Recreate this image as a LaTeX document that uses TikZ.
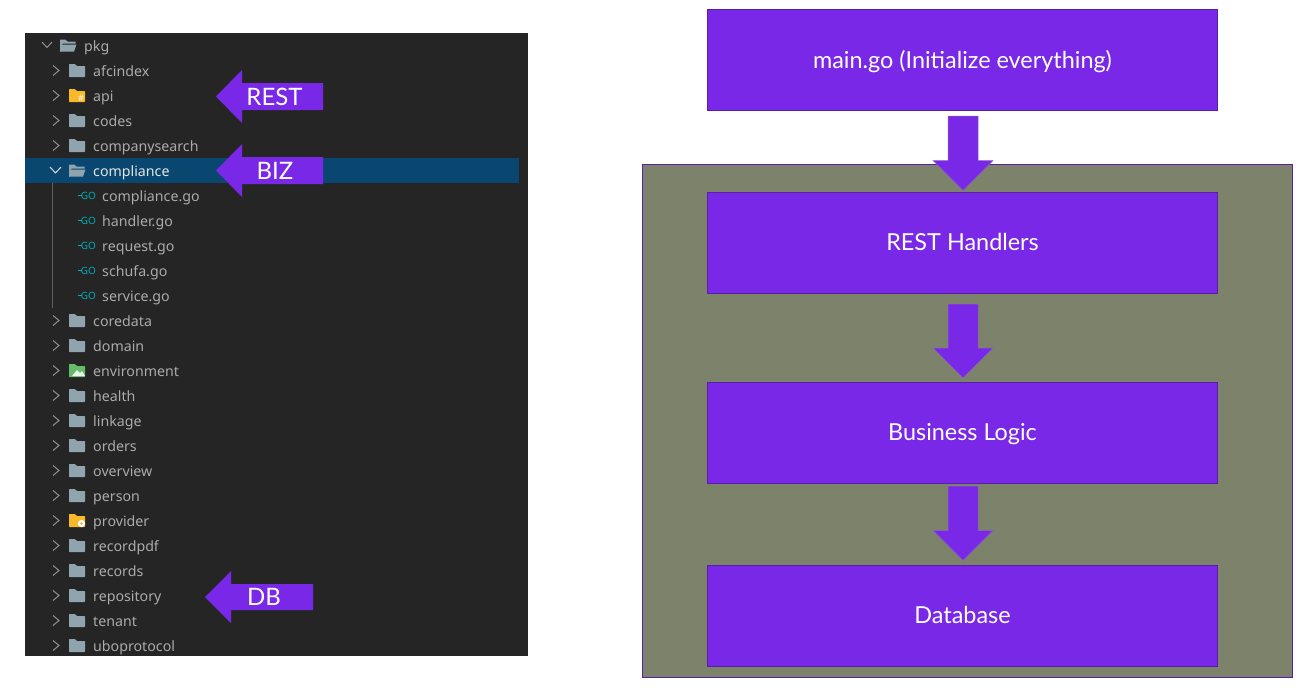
\documentclass[tikz,border=0pt]{standalone}
\usepackage{fontspec}
\setmainfont{Lato}
\newfontfamily\treefont{Noto Sans}
\definecolor{purp}{HTML}{7828E6}
\definecolor{purpline}{HTML}{5A1EAA}
\definecolor{olive}{HTML}{7D836A}
\definecolor{panel}{HTML}{252526}
\definecolor{rowsel}{HTML}{094771}
\definecolor{treetext}{HTML}{ABABAB}
\definecolor{foldergrey}{HTML}{90A4AE}
\definecolor{folderyellow}{HTML}{F9B82A}
\definecolor{foldergreen}{HTML}{66BB6A}
\definecolor{goteal}{HTML}{00ADB8}
\tikzset{
  x=1pt,y=-1pt,
  layerbox/.style={draw=purpline,line width=.9pt,fill=purp,text=white,minimum width=510.5pt,minimum height=101pt,inner sep=0pt,text height=16pt,text depth=0pt,font=\fontsize{23.4}{28}\selectfont},
  blockarrow/.style={fill=purp,draw=purpline!70!white,line width=.5pt},
  arrowlabel/.style={text=white,inner sep=0pt,font=\fontsize{24}{29}\selectfont},
  treelabel/.style={text=treetext,anchor=base west,inner sep=0pt,font=\treefont\fontsize{14.2}{17}\selectfont},
  chevron/.style={draw=treetext!85!black,line width=1pt},
}
\newcommand{\foldericon}[3]{%
  \fill[#3,rounded corners=.6pt] (#1,#2) ++(-8,-6.5) -- ++(6,0) -- ++(2,2) -- ++(8,0) -- ++(0,11) -- ++(-16,0) -- cycle;}
\newcommand{\openfolder}[2]{%
  \fill[foldergrey] (#1,#2) ++(-8,-6) -- ++(5.5,0) -- ++(2,2) -- ++(8,0) -- ++(0,2) -- ++(-13,0) -- ++(-1.3,8) -- ++(-1.2,0) -- cycle;
  \fill[foldergrey] (#1,#2) ++(-5.5,-1) -- ++(14,0) -- ++(-2.5,7) -- ++(-14,0) -- cycle;}
\newcommand{\treerow}[3]{%
  \draw[chevron] (53,#1-5) -- (59,#1) -- (53,#1+5);
  \foldericon{77}{#1}{#3}
  \node[treelabel] (n#2) at (93,#1+5.5) {#2};}
\newcommand{\gorow}[2]{%
  \node[text=goteal,inner sep=0pt,font=\treefont\bfseries\fontsize{10}{10}\selectfont] (g#2) at (88.5,#1) {GO};
  \draw[goteal,line width=.8pt] (78,#1) -- (82,#1);
  \node[treelabel] (n#2) at (102,#1+5.5) {#2.go};}
\begin{document}
\begin{tikzpicture}
\useasboundingbox (0,0) rectangle (1308,697);
\fill[white] (0,0) rectangle (1308,697);
\fill[panel] (25,33) rectangle (528,656);
\fill[rowsel] (25,158) rectangle (519,183);
\draw[treetext!55!black,line width=.8pt] (52.5,183) -- (52.5,308);
\draw[chevron] (42,42) -- (47,47.5) -- (52,42);
\openfolder{68}{45.5}
\node[treelabel] (npkg) at (84,51) {pkg};
\treerow{70.5}{afcindex}{foldergrey}
\treerow{95.5}{api}{folderyellow}
\node[text=white,inner sep=0pt,font=\treefont\bfseries\fontsize{9}{9}\selectfont] (apimark) at (81,98.5) {\#};
\treerow{120.5}{codes}{foldergrey}
\treerow{145.5}{companysearch}{foldergrey}
\draw[chevron,draw=white!85!black] (50,167) -- (55.5,173) -- (61,167);
\openfolder{77}{170.5}
\node[treelabel,text=white!90!black] (ncompliance) at (93,176) {compliance};
\gorow{195.5}{compliance}
\gorow{220.5}{handler}
\gorow{245.5}{request}
\gorow{270.5}{schufa}
\gorow{295.5}{service}
\treerow{320.5}{coredata}{foldergrey}
\treerow{345.5}{domain}{foldergrey}
\treerow{370.5}{environment}{foldergreen}
\fill[white!85!foldergreen] (72,376) -- (77,370) -- (80,373) -- (82,371) -- (85,376) -- cycle;
\treerow{395.5}{health}{foldergrey}
\treerow{420.5}{linkage}{foldergrey}
\treerow{445.5}{orders}{foldergrey}
\treerow{470.5}{overview}{foldergrey}
\treerow{495.5}{person}{foldergrey}
\treerow{520.5}{provider}{folderyellow}
\fill[white] (81.5,523.5) circle (3.6);
\fill[folderyellow] (81.5,523.5) circle (1.4);
\treerow{545.5}{recordpdf}{foldergrey}
\treerow{570.5}{records}{foldergrey}
\treerow{595.5}{repository}{foldergrey}
\treerow{620.5}{tenant}{foldergrey}
\treerow{645.5}{uboprotocol}{foldergrey}
\fill[purp] (216,96.5) -- (242,70) -- (242,83) -- (323,83) -- (323,110) -- (242,110) -- (242,123) -- cycle;
\node[arrowlabel] (lrest) at (274.5,96.5) {REST};
\fill[purp] (216,170.5) -- (242,144) -- (242,157) -- (323,157) -- (323,184) -- (242,184) -- (242,197) -- cycle;
\node[arrowlabel] (lbiz) at (275,170.5) {BIZ};
\fill[purp] (205,597) -- (231,571) -- (231,584) -- (313,584) -- (313,610) -- (231,610) -- (231,623) -- cycle;
\node[arrowlabel] (ldb) at (264,596.5) {DB};
\draw[purpline,line width=.9pt,fill=olive] (642.5,164.5) rectangle (1292.5,677.5);
\node[layerbox] (main) at (962.5,60) {main.go (Initialize everything)};
\node[layerbox] (rest) at (962.5,242.5) {REST Handlers};
\node[layerbox] (biz) at (962.5,432.5) {Business Logic};
\node[layerbox] (db) at (962.5,615.5) {Database};
\path[blockarrow] (948,116) -- (978,116) -- (978,160.5) -- (993,160.5) -- (963,190.5) -- (933,160.5) -- (948,160.5) -- cycle;
\path[blockarrow] (948,304) -- (978,304) -- (978,348) -- (993,348) -- (963,378) -- (933,348) -- (948,348) -- cycle;
\path[blockarrow] (948,486) -- (978,486) -- (978,530.5) -- (993,530.5) -- (963,560.5) -- (933,530.5) -- (948,530.5) -- cycle;
\end{tikzpicture}
\end{document}
